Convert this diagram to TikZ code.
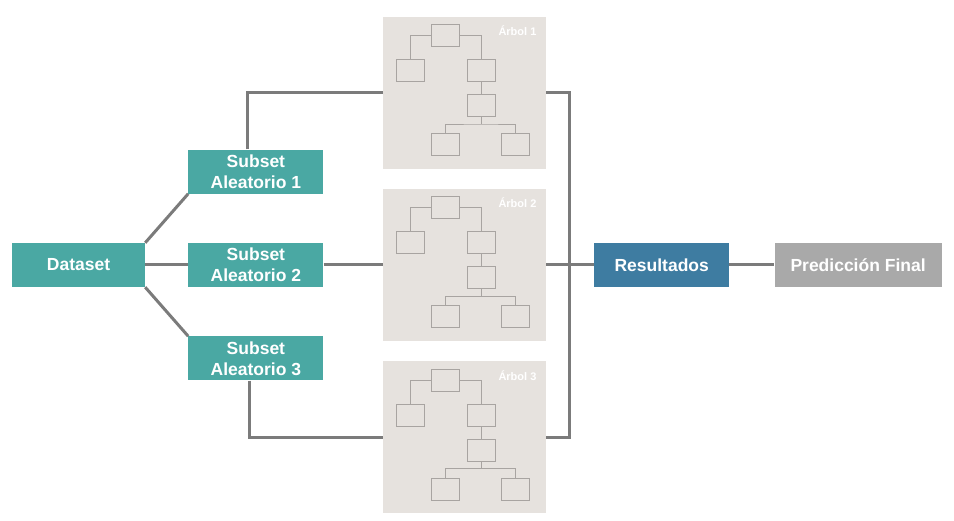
\documentclass[tikz,border=0pt]{standalone}
\usepackage{fontspec}
\setmainfont{Liberation Sans}
\usepackage{xcolor}
\usepackage{tikz}
\usetikzlibrary{positioning, calc}

\definecolor{tealbox}{HTML}{4AA8A3}
\definecolor{bluebox}{HTML}{3E7CA1}
\definecolor{graybox}{HTML}{A9A9A9}
\definecolor{panelgray}{HTML}{E6E2DE}
\definecolor{leafline}{HTML}{A8A4A1}
\definecolor{linkgray}{HTML}{7B7B7B}

\begin{document}
\begin{tikzpicture}[
    x=1pt, y=-1pt,
    box/.style={
      rectangle, fill=tealbox, text=white,
      font=\fontsize{17.5}{21}\selectfont\bfseries,
      align=center, inner sep=0pt, minimum height=44pt
    },
    subset/.style={box, minimum width=135pt},
    panel/.style={rectangle, fill=panelgray, minimum width=163pt, minimum height=152pt, inner sep=0pt},
    leaf/.style={rectangle, draw=leafline, line width=1.2pt, minimum width=28pt, minimum height=22pt, inner sep=0pt},
    link/.style={draw=linkgray, line width=3pt},
    twig/.style={draw=leafline, line width=0.9pt},
    tag/.style={font=\fontsize{11}{13}\selectfont\bfseries, text=white, anchor=east, inner sep=0pt},
  ]

  \useasboundingbox (0,0) rectangle (954,521);

  \node[box, minimum width=133pt] (dataset) at (78.5,265) {Dataset};
  \node[subset, right=43pt of dataset] (sub2) {Subset\\Aleatorio 2};
  \node[subset, above=49pt of sub2] (sub1) {Subset\\Aleatorio 1};
  \node[subset, below=49pt of sub2] (sub3) {Subset\\Aleatorio 3};

  \node[panel, right=59pt of sub2] (t2) {};
  \node[panel, above=20pt of t2] (t1) {};
  \node[panel, below=20pt of t2] (t3) {};

  \node[box, fill=bluebox, minimum width=135pt, right=48pt of t2] (res) {Resultados};
  \node[box, fill=graybox, minimum width=167pt, right=45pt of res] (pred) {Predicción Final};

  \foreach \i in {1,2,3} {
    \begin{scope}[shift={(t\i.north west)}]
      \node[leaf] (t\i-root) at (63,19) {};
      \node[leaf] (t\i-l) at (27.5,54) {};
      \node[leaf] (t\i-r) at (99,54) {};
      \node[leaf] (t\i-m) at (99,89) {};
      \node[leaf] (t\i-bl) at (63,128) {};
      \node[leaf] (t\i-br) at (133,128) {};
      \node[tag] (t\i-tag) at (154,14) {Árbol \i};
      \coordinate (t\i-j) at ($(t\i-m.south)+(0,7)$);
      \draw[twig] (t\i-root.west) -| (t\i-l.north);
      \draw[twig] (t\i-root.east) -| (t\i-r.north);
      \draw[twig] (t\i-r.south) -- (t\i-m.north);
      \draw[twig] (t\i-m.south) -- (t\i-j);
      \draw[twig] (t\i-bl.north) |- (t\i-j) -| (t\i-br.north);
    \end{scope}
  }

  \coordinate (bus) at ($(t2.east)+(23,0)$);

  \draw[link] (dataset.north east) -- (sub1.south west);
  \draw[link] (dataset.east) -- (sub2.west);
  \draw[link] (dataset.south east) -- (sub3.north west);
  \draw[link] ([xshift=-8pt]sub1.north) |- (t1.west);
  \draw[link] (sub2.east) -- (t2.west);
  \draw[link] ([xshift=-6pt]sub3.south) |- (t3.west);
  \draw[link] (t1.east) -| (bus |- t3.east) -- (t3.east);
  \draw[link] (t2.east) -- (res.west);
  \draw[link] (res.east) -- (pred.west);
\end{tikzpicture}
\end{document}
